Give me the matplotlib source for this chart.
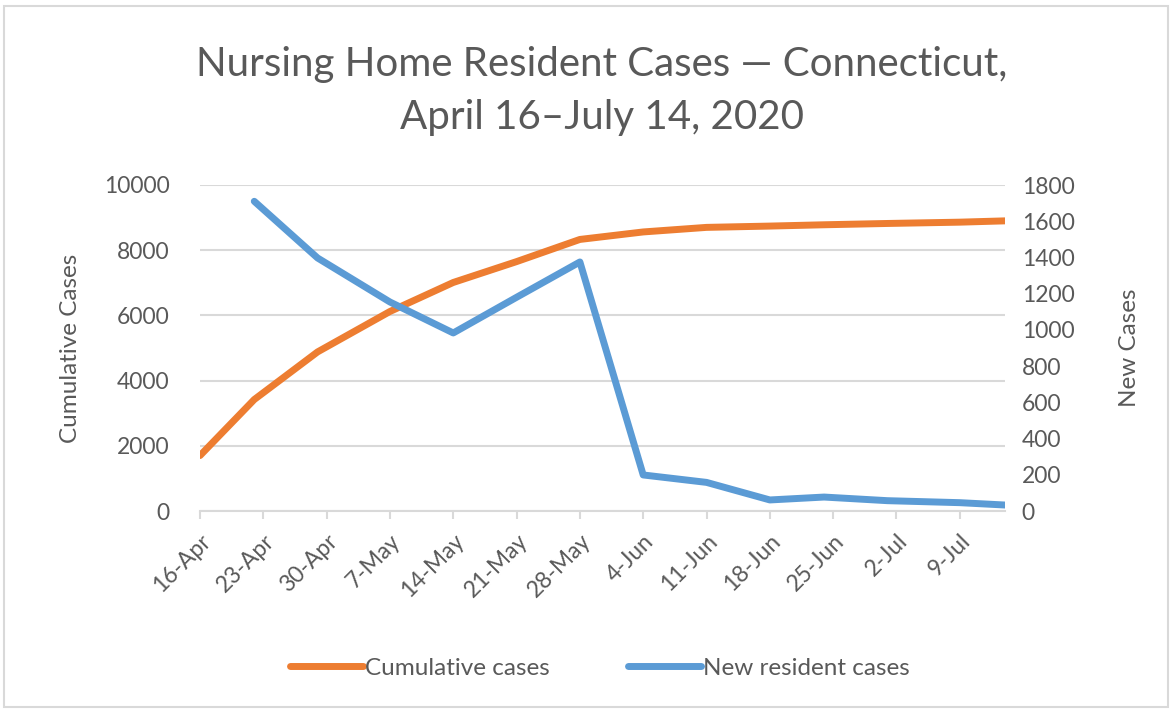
import matplotlib
matplotlib.use('Agg')
import matplotlib.pyplot as plt
import matplotlib.dates as mdates
import numpy as np
import pandas as pd
from matplotlib.patches import Rectangle

plt.rcParams['font.family'] = ['Lato', 'DejaVu Sans']

dates = pd.to_datetime([
    '2020-04-16', '2020-04-22', '2020-04-29', '2020-05-07', '2020-05-14',
    '2020-05-21', '2020-05-28', '2020-06-04', '2020-06-11', '2020-06-18',
    '2020-06-24', '2020-07-01', '2020-07-09', '2020-07-14'])
cumulative = [1700, 3420, 4880, 6120, 7010, 7650, 8330, 8560, 8700, 8740,
              8780, 8820, 8860, 8900]
new_cases = [np.nan, 1710, 1397, 1154, 983, 1180, 1375, 199, 158, 61,
             77, 57, 46, 33]
tick_dates = pd.date_range('2020-04-16', '2020-07-09', freq='7D')

GRAY = '#595959'
GRID = '#d9d9d9'
ORANGE = '#ED7D31'
BLUE = '#5B9BD5'


def main():
    fig = plt.figure(figsize=(11.73, 7.13), dpi=100)
    ax = fig.add_axes([200 / 1173, 1 - 511 / 713, 805 / 1173, 326 / 713])
    ax2 = ax.twinx()

    l1, = ax.plot(dates, cumulative, color=ORANGE, lw=5,
                  solid_capstyle='round', solid_joinstyle='round',
                  label='Cumulative cases')
    l2, = ax2.plot(dates, new_cases, color=BLUE, lw=5,
                   solid_capstyle='round', solid_joinstyle='round',
                   label='New resident cases')

    ax.set_xlim(dates[0], dates[-1])
    ax.set_ylim(0, 10000)
    ax2.set_ylim(0, 1800)
    ax.set_yticks(range(0, 10001, 2000))
    ax2.set_yticks(range(0, 1801, 200))
    ax.grid(axis='y', color=GRID, lw=1.5)
    ax.set_axisbelow(True)

    ax.set_xticks(tick_dates)
    ax.xaxis.set_major_formatter(mdates.DateFormatter('%-d-%b'))
    for lab in ax.get_xticklabels():
        lab.set_rotation(45)
        lab.set_ha('right')
        lab.set_rotation_mode('anchor')

    for a in (ax, ax2):
        for s in a.spines.values():
            s.set_visible(False)
        a.tick_params(axis='y', length=0, labelsize=16.5, colors=GRAY)
    ax.tick_params(axis='y', pad=22)
    ax2.tick_params(axis='y', pad=12)
    ax.spines['bottom'].set_visible(True)
    ax.spines['bottom'].set_color(GRID)
    ax.spines['bottom'].set_linewidth(1.5)
    ax.tick_params(axis='x', length=6, width=1.5, color=GRID,
                   labelsize=16.5, labelcolor=GRAY, pad=8)

    ax.set_ylabel('Cumulative Cases', fontsize=17.5, color=GRAY, labelpad=16)
    ax2.set_ylabel('New Cases', fontsize=17.5, color=GRAY, labelpad=32)

    fig.text(602 / 1173, 1 - 91 / 713,
             'Nursing Home Resident Cases \u2014 Connecticut,\nApril 16\u2013July 14, 2020',
             ha='center', va='center', fontsize=29, color=GRAY, linespacing=1.55)

    fig.legend([l1, l2], ['Cumulative cases', 'New resident cases'],
               loc='center', bbox_to_anchor=(600 / 1173, 1 - 668 / 713),
               ncol=2, frameon=False, fontsize=17.5, labelcolor=GRAY,
               handlelength=3.0, handletextpad=0.1, columnspacing=3.2)

    fig.patches.append(Rectangle((4 / 1173, 6 / 713), 1164 / 1173, 701 / 713,
                                 transform=fig.transFigure, fill=False,
                                 edgecolor=GRID, lw=1.5))

    fig.savefig('out.png', dpi=100, facecolor='white')


if __name__ == '__main__':
    main()
